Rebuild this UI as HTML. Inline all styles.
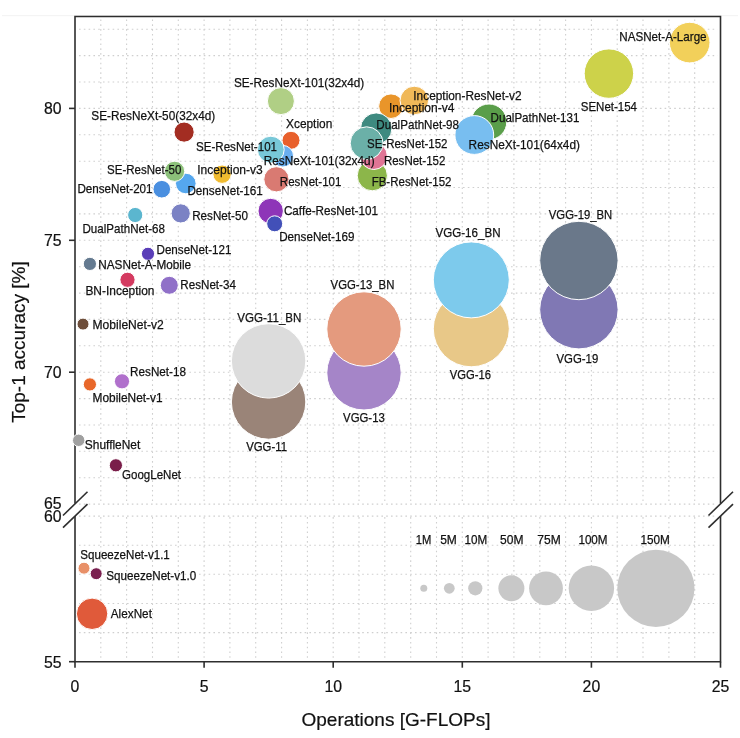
<!DOCTYPE html><html><head><meta charset="utf-8"><style>html,body{margin:0;padding:0;background:#fff;}svg{display:block;filter:blur(0.35px);}</style></head><body>
<svg width="740" height="738" viewBox="0 0 740 738" font-family='"Liberation Sans", sans-serif'>
<rect width="740" height="738" fill="#fff"/><line x1="2" y1="15.7" x2="738" y2="15.7" stroke="#f2f2f2" stroke-width="1"/>
<g stroke="#cfcfcf" stroke-width="1.1" stroke-dasharray="1.6 3.2"><line x1="100.8" y1="19.5" x2="100.8" y2="502.5"/><line x1="100.8" y1="517.1" x2="100.8" y2="657.7"/><line x1="126.6" y1="19.5" x2="126.6" y2="502.5"/><line x1="126.6" y1="517.1" x2="126.6" y2="657.7"/><line x1="152.5" y1="19.5" x2="152.5" y2="502.5"/><line x1="152.5" y1="517.1" x2="152.5" y2="657.7"/><line x1="178.3" y1="19.5" x2="178.3" y2="502.5"/><line x1="178.3" y1="517.1" x2="178.3" y2="657.7"/><line x1="204.1" y1="19.5" x2="204.1" y2="502.5"/><line x1="204.1" y1="517.1" x2="204.1" y2="657.7"/><line x1="229.9" y1="19.5" x2="229.9" y2="502.5"/><line x1="229.9" y1="517.1" x2="229.9" y2="657.7"/><line x1="255.7" y1="19.5" x2="255.7" y2="502.5"/><line x1="255.7" y1="517.1" x2="255.7" y2="657.7"/><line x1="281.6" y1="19.5" x2="281.6" y2="502.5"/><line x1="281.6" y1="517.1" x2="281.6" y2="657.7"/><line x1="307.4" y1="19.5" x2="307.4" y2="502.5"/><line x1="307.4" y1="517.1" x2="307.4" y2="657.7"/><line x1="333.2" y1="19.5" x2="333.2" y2="502.5"/><line x1="333.2" y1="517.1" x2="333.2" y2="657.7"/><line x1="359.0" y1="19.5" x2="359.0" y2="502.5"/><line x1="359.0" y1="517.1" x2="359.0" y2="657.7"/><line x1="384.8" y1="19.5" x2="384.8" y2="502.5"/><line x1="384.8" y1="517.1" x2="384.8" y2="657.7"/><line x1="410.7" y1="19.5" x2="410.7" y2="502.5"/><line x1="410.7" y1="517.1" x2="410.7" y2="657.7"/><line x1="436.5" y1="19.5" x2="436.5" y2="502.5"/><line x1="436.5" y1="517.1" x2="436.5" y2="657.7"/><line x1="462.3" y1="19.5" x2="462.3" y2="502.5"/><line x1="462.3" y1="517.1" x2="462.3" y2="657.7"/><line x1="488.1" y1="19.5" x2="488.1" y2="502.5"/><line x1="488.1" y1="517.1" x2="488.1" y2="657.7"/><line x1="513.9" y1="19.5" x2="513.9" y2="502.5"/><line x1="513.9" y1="517.1" x2="513.9" y2="657.7"/><line x1="539.8" y1="19.5" x2="539.8" y2="502.5"/><line x1="539.8" y1="517.1" x2="539.8" y2="657.7"/><line x1="565.6" y1="19.5" x2="565.6" y2="502.5"/><line x1="565.6" y1="517.1" x2="565.6" y2="657.7"/><line x1="591.4" y1="19.5" x2="591.4" y2="502.5"/><line x1="591.4" y1="517.1" x2="591.4" y2="657.7"/><line x1="617.2" y1="19.5" x2="617.2" y2="502.5"/><line x1="617.2" y1="517.1" x2="617.2" y2="657.7"/><line x1="643.0" y1="19.5" x2="643.0" y2="502.5"/><line x1="643.0" y1="517.1" x2="643.0" y2="657.7"/><line x1="668.9" y1="19.5" x2="668.9" y2="502.5"/><line x1="668.9" y1="517.1" x2="668.9" y2="657.7"/><line x1="694.7" y1="19.5" x2="694.7" y2="502.5"/><line x1="694.7" y1="517.1" x2="694.7" y2="657.7"/><line x1="79.0" y1="504.1" x2="717.5" y2="504.1"/><line x1="79.0" y1="477.7" x2="717.5" y2="477.7"/><line x1="79.0" y1="451.3" x2="717.5" y2="451.3"/><line x1="79.0" y1="425.0" x2="717.5" y2="425.0"/><line x1="79.0" y1="398.6" x2="717.5" y2="398.6"/><line x1="79.0" y1="372.2" x2="717.5" y2="372.2"/><line x1="79.0" y1="345.8" x2="717.5" y2="345.8"/><line x1="79.0" y1="319.4" x2="717.5" y2="319.4"/><line x1="79.0" y1="293.1" x2="717.5" y2="293.1"/><line x1="79.0" y1="266.7" x2="717.5" y2="266.7"/><line x1="79.0" y1="240.3" x2="717.5" y2="240.3"/><line x1="79.0" y1="213.9" x2="717.5" y2="213.9"/><line x1="79.0" y1="187.5" x2="717.5" y2="187.5"/><line x1="79.0" y1="161.2" x2="717.5" y2="161.2"/><line x1="79.0" y1="134.8" x2="717.5" y2="134.8"/><line x1="79.0" y1="108.4" x2="717.5" y2="108.4"/><line x1="79.0" y1="82.0" x2="717.5" y2="82.0"/><line x1="79.0" y1="55.6" x2="717.5" y2="55.6"/><line x1="79.0" y1="29.3" x2="717.5" y2="29.3"/><line x1="79.0" y1="632.6" x2="717.5" y2="632.6"/><line x1="79.0" y1="603.5" x2="717.5" y2="603.5"/><line x1="79.0" y1="574.3" x2="717.5" y2="574.3"/><line x1="79.0" y1="545.2" x2="717.5" y2="545.2"/><line x1="79.0" y1="516.1" x2="717.5" y2="516.1"/></g>
<g stroke="#2e2e2e" stroke-width="1.6"><path d="M75.0,503.5 L75.0,16.5 L720.5,16.5 L720.5,503.5" fill="none"/><path d="M75.0,516.1 L75.0,661.7 L720.5,661.7 L720.5,516.1" fill="none"/><line x1="69.0" y1="108.4" x2="75.0" y2="108.4"/><line x1="69.0" y1="240.3" x2="75.0" y2="240.3"/><line x1="69.0" y1="372.2" x2="75.0" y2="372.2"/><line x1="69.0" y1="661.7" x2="75.0" y2="661.7"/><line x1="75.0" y1="661.7" x2="75.0" y2="667.7"/><line x1="204.1" y1="661.7" x2="204.1" y2="667.7"/><line x1="333.2" y1="661.7" x2="333.2" y2="667.7"/><line x1="462.3" y1="661.7" x2="462.3" y2="667.7"/><line x1="591.4" y1="661.7" x2="591.4" y2="667.7"/><line x1="720.5" y1="661.7" x2="720.5" y2="667.7"/><line x1="63.0" y1="515.5" x2="87.5" y2="491.7"/><line x1="63.0" y1="527.7" x2="87.5" y2="504.1"/><line x1="708.5" y1="515.5" x2="733.0" y2="491.7"/><line x1="708.5" y1="527.7" x2="733.0" y2="504.1"/></g>
<circle cx="689.7" cy="42.6" r="20.3" fill="#f2d05a" stroke="#fff" stroke-width="1"/>
<circle cx="608.9" cy="73.6" r="24.7" fill="#cdd24a" stroke="#fff" stroke-width="1"/>
<circle cx="280.9" cy="101.1" r="13.5" fill="#b0cf85" stroke="#fff" stroke-width="1"/>
<circle cx="391.0" cy="106.2" r="12.3" fill="#e9952a" stroke="#fff" stroke-width="1"/>
<circle cx="414.3" cy="100.5" r="14.3" fill="#f0b858" stroke="#fff" stroke-width="1"/>
<circle cx="489.0" cy="121.8" r="17.8" fill="#5a9e4a" stroke="#fff" stroke-width="1"/>
<circle cx="474.3" cy="135.0" r="19.4" fill="#78bef0" stroke="#fff" stroke-width="1"/>
<circle cx="372.3" cy="175.7" r="15.1" fill="#8cb64a" stroke="#fff" stroke-width="1"/>
<circle cx="373.8" cy="156.0" r="13.5" fill="#e07595" stroke="#fff" stroke-width="1"/>
<circle cx="376.2" cy="128.6" r="15.7" fill="#3e8a80" stroke="#fff" stroke-width="1"/>
<circle cx="366.6" cy="143.2" r="16.4" fill="#6bb0a8" stroke="#fff" stroke-width="1"/>
<circle cx="184.1" cy="132.1" r="10.1" fill="#a32d22" stroke="#fff" stroke-width="1"/>
<circle cx="291.0" cy="140.3" r="9.0" fill="#e8602c" stroke="#fff" stroke-width="1"/>
<circle cx="282.8" cy="156.2" r="10.8" fill="#6aaef0" stroke="#fff" stroke-width="1"/>
<circle cx="270.8" cy="149.6" r="13.4" fill="#78c8d8" stroke="#fff" stroke-width="1"/>
<circle cx="185.8" cy="183.5" r="10.3" fill="#55a7ee" stroke="#fff" stroke-width="1"/>
<circle cx="174.6" cy="171.3" r="10.1" fill="#8cc17a" stroke="#fff" stroke-width="1"/>
<circle cx="161.8" cy="189.2" r="8.8" fill="#4a8fe0" stroke="#fff" stroke-width="1"/>
<circle cx="222.1" cy="174.2" r="9.2" fill="#f0bb30" stroke="#fff" stroke-width="1"/>
<circle cx="276.4" cy="179.3" r="12.6" fill="#d97a72" stroke="#fff" stroke-width="1"/>
<circle cx="270.7" cy="211.0" r="12.7" fill="#8e35b8" stroke="#fff" stroke-width="1"/>
<circle cx="274.7" cy="223.8" r="8.0" fill="#4250b8" stroke="#fff" stroke-width="1"/>
<circle cx="135.2" cy="215.0" r="7.6" fill="#5bb6cf" stroke="#fff" stroke-width="1"/>
<circle cx="180.7" cy="213.4" r="9.6" fill="#7b82c4" stroke="#fff" stroke-width="1"/>
<circle cx="148.0" cy="253.8" r="6.6" fill="#5a3eb8" stroke="#fff" stroke-width="1"/>
<circle cx="89.9" cy="263.9" r="6.6" fill="#647a90" stroke="#fff" stroke-width="1"/>
<circle cx="127.5" cy="279.8" r="7.6" fill="#d43a60" stroke="#fff" stroke-width="1"/>
<circle cx="169.3" cy="285.3" r="9.0" fill="#9070c8" stroke="#fff" stroke-width="1"/>
<circle cx="83.0" cy="324.1" r="6.0" fill="#6e4e3a" stroke="#fff" stroke-width="1"/>
<circle cx="122.0" cy="381.3" r="7.6" fill="#b070cc" stroke="#fff" stroke-width="1"/>
<circle cx="89.9" cy="384.4" r="6.6" fill="#e8672a" stroke="#fff" stroke-width="1"/>
<circle cx="78.7" cy="440.3" r="6.2" fill="#a0a0a0" stroke="#fff" stroke-width="1"/>
<circle cx="115.9" cy="465.3" r="6.6" fill="#7a1e4a" stroke="#fff" stroke-width="1"/>
<circle cx="268.6" cy="402.0" r="37.2" fill="#9a8478" stroke="#fff" stroke-width="1"/>
<circle cx="268.6" cy="360.9" r="37.2" fill="#dcdcdc" stroke="#fff" stroke-width="1"/>
<circle cx="364.0" cy="372.8" r="37.2" fill="#a585c8" stroke="#fff" stroke-width="1"/>
<circle cx="364.0" cy="329.0" r="37.2" fill="#e49a7e" stroke="#fff" stroke-width="1"/>
<circle cx="471.3" cy="328.8" r="38.0" fill="#e8c888" stroke="#fff" stroke-width="1"/>
<circle cx="471.3" cy="279.9" r="38.0" fill="#7dcaec" stroke="#fff" stroke-width="1"/>
<circle cx="578.9" cy="309.7" r="39.2" fill="#8078b4" stroke="#fff" stroke-width="1"/>
<circle cx="578.9" cy="260.5" r="39.2" fill="#6a788a" stroke="#fff" stroke-width="1"/>
<circle cx="84.0" cy="568.2" r="6.0" fill="#e89068" stroke="#fff" stroke-width="1"/>
<circle cx="96.2" cy="573.7" r="6.0" fill="#7a2050" stroke="#fff" stroke-width="1"/>
<circle cx="92.1" cy="613.8" r="15.7" fill="#e05a3a" stroke="#fff" stroke-width="1"/>
<circle cx="423.8" cy="588.3" r="3.5" fill="#c8c8c8"/>
<circle cx="449.3" cy="588.3" r="5.4" fill="#c8c8c8"/>
<circle cx="475.3" cy="588.3" r="7.1" fill="#c8c8c8"/>
<circle cx="511.4" cy="588.3" r="13.0" fill="#c8c8c8"/>
<circle cx="546.0" cy="588.3" r="16.9" fill="#c8c8c8"/>
<circle cx="591.4" cy="588.3" r="22.7" fill="#c8c8c8"/>
<circle cx="655.9" cy="588.3" r="38.6" fill="#c8c8c8"/>
<g font-size="13.6" fill="#111" stroke="#111" stroke-width="0.25"><text x="619.3" y="41.4" textLength="87.3" lengthAdjust="spacingAndGlyphs">NASNet-A-Large</text><text x="580.8" y="111.2" textLength="56.2" lengthAdjust="spacingAndGlyphs">SENet-154</text><text x="233.9" y="86.6" textLength="130.3" lengthAdjust="spacingAndGlyphs">SE-ResNeXt-101(32x4d)</text><text x="389.0" y="112.3" textLength="65.4" lengthAdjust="spacingAndGlyphs">Inception-v4</text><text x="413.3" y="100.3" textLength="108.2" lengthAdjust="spacingAndGlyphs">Inception-ResNet-v2</text><text x="490.6" y="122.4" textLength="88.8" lengthAdjust="spacingAndGlyphs">DualPathNet-131</text><text x="468.6" y="149.3" textLength="111.4" lengthAdjust="spacingAndGlyphs">ResNeXt-101(64x4d)</text><text x="371.7" y="186.3" textLength="79.8" lengthAdjust="spacingAndGlyphs">FB-ResNet-152</text><text x="383.9" y="165.1" textLength="61.5" lengthAdjust="spacingAndGlyphs">ResNet-152</text><text x="376.3" y="129.0" textLength="82.7" lengthAdjust="spacingAndGlyphs">DualPathNet-98</text><text x="367.0" y="148.3" textLength="80.5" lengthAdjust="spacingAndGlyphs">SE-ResNet-152</text><text x="91.3" y="120.1" textLength="123.9" lengthAdjust="spacingAndGlyphs">SE-ResNeXt-50(32x4d)</text><text x="286.0" y="127.7" textLength="46.3" lengthAdjust="spacingAndGlyphs">Xception</text><text x="263.7" y="165.0" textLength="110.9" lengthAdjust="spacingAndGlyphs">ResNeXt-101(32x4d)</text><text x="196.1" y="150.9" textLength="80.9" lengthAdjust="spacingAndGlyphs">SE-ResNet-101</text><text x="187.4" y="195.4" textLength="75.4" lengthAdjust="spacingAndGlyphs">DenseNet-161</text><text x="107.1" y="174.0" textLength="74.2" lengthAdjust="spacingAndGlyphs">SE-ResNet-50</text><text x="77.4" y="192.6" textLength="75.2" lengthAdjust="spacingAndGlyphs">DenseNet-201</text><text x="197.2" y="174.2" textLength="65.6" lengthAdjust="spacingAndGlyphs">Inception-v3</text><text x="279.8" y="185.9" textLength="61.6" lengthAdjust="spacingAndGlyphs">ResNet-101</text><text x="283.9" y="215.1" textLength="94.1" lengthAdjust="spacingAndGlyphs">Caffe-ResNet-101</text><text x="279.2" y="240.5" textLength="75.2" lengthAdjust="spacingAndGlyphs">DenseNet-169</text><text x="82.5" y="233.3" textLength="82.5" lengthAdjust="spacingAndGlyphs">DualPathNet-68</text><text x="192.2" y="220.4" textLength="55.7" lengthAdjust="spacingAndGlyphs">ResNet-50</text><text x="156.5" y="254.0" textLength="75.0" lengthAdjust="spacingAndGlyphs">DenseNet-121</text><text x="98.2" y="269.0" textLength="92.9" lengthAdjust="spacingAndGlyphs">NASNet-A-Mobile</text><text x="85.4" y="294.6" textLength="69.1" lengthAdjust="spacingAndGlyphs">BN-Inception</text><text x="180.3" y="288.5" textLength="55.6" lengthAdjust="spacingAndGlyphs">ResNet-34</text><text x="92.5" y="328.6" textLength="71.2" lengthAdjust="spacingAndGlyphs">MobileNet-v2</text><text x="130.1" y="375.9" textLength="55.9" lengthAdjust="spacingAndGlyphs">ResNet-18</text><text x="92.5" y="402.3" textLength="70.1" lengthAdjust="spacingAndGlyphs">MobileNet-v1</text><text x="84.8" y="449.4" textLength="55.5" lengthAdjust="spacingAndGlyphs">ShuffleNet</text><text x="122.0" y="478.9" textLength="59.0" lengthAdjust="spacingAndGlyphs">GoogLeNet</text><text x="246.2" y="451.2" textLength="40.8" lengthAdjust="spacingAndGlyphs">VGG-11</text><text x="237.3" y="322.2" textLength="64.1" lengthAdjust="spacingAndGlyphs">VGG-11_BN</text><text x="343.1" y="422.0" textLength="41.7" lengthAdjust="spacingAndGlyphs">VGG-13</text><text x="330.6" y="288.5" textLength="63.8" lengthAdjust="spacingAndGlyphs">VGG-13_BN</text><text x="449.8" y="378.9" textLength="41.2" lengthAdjust="spacingAndGlyphs">VGG-16</text><text x="435.5" y="237.3" textLength="65.0" lengthAdjust="spacingAndGlyphs">VGG-16_BN</text><text x="556.5" y="362.5" textLength="41.8" lengthAdjust="spacingAndGlyphs">VGG-19</text><text x="548.8" y="218.5" textLength="63.5" lengthAdjust="spacingAndGlyphs">VGG-19_BN</text><text x="80.3" y="558.5" textLength="89.5" lengthAdjust="spacingAndGlyphs">SqueezeNet-v1.1</text><text x="106.3" y="579.8" textLength="89.9" lengthAdjust="spacingAndGlyphs">SqueezeNet-v1.0</text><text x="110.8" y="617.8" textLength="41.1" lengthAdjust="spacingAndGlyphs">AlexNet</text><text x="415.8" y="544.4" textLength="15.6" lengthAdjust="spacingAndGlyphs">1M</text><text x="440.2" y="544.4" textLength="16.7" lengthAdjust="spacingAndGlyphs">5M</text><text x="464.5" y="544.4" textLength="22.7" lengthAdjust="spacingAndGlyphs">10M</text><text x="500.1" y="544.4" textLength="23.4" lengthAdjust="spacingAndGlyphs">50M</text><text x="537.3" y="544.4" textLength="23.4" lengthAdjust="spacingAndGlyphs">75M</text><text x="578.4" y="544.4" textLength="29.2" lengthAdjust="spacingAndGlyphs">100M</text><text x="640.4" y="544.4" textLength="29.4" lengthAdjust="spacingAndGlyphs">150M</text></g>
<g font-size="15.8" fill="#111" stroke="#111" stroke-width="0.2"><text x="61.5" y="114.0" text-anchor="end">80</text><text x="61.5" y="245.9" text-anchor="end">75</text><text x="61.5" y="377.8" text-anchor="end">70</text><text x="61.5" y="509.3" text-anchor="end">65</text><text x="61.5" y="522.2" text-anchor="end">60</text><text x="61.5" y="667.5" text-anchor="end">55</text><text x="75.0" y="691.6" text-anchor="middle">0</text><text x="204.1" y="691.6" text-anchor="middle">5</text><text x="333.2" y="691.6" text-anchor="middle">10</text><text x="462.3" y="691.6" text-anchor="middle">15</text><text x="591.4" y="691.6" text-anchor="middle">20</text><text x="720.5" y="691.6" text-anchor="middle">25</text></g>
<text x="396" y="726.2" text-anchor="middle" font-size="19" fill="#111" stroke="#111" stroke-width="0.2">Operations [G-FLOPs]</text>
<text transform="translate(25,342) rotate(-90)" text-anchor="middle" font-size="19" fill="#111" stroke="#111" stroke-width="0.2">Top-1 accuracy [%]</text>
</svg></body></html>
